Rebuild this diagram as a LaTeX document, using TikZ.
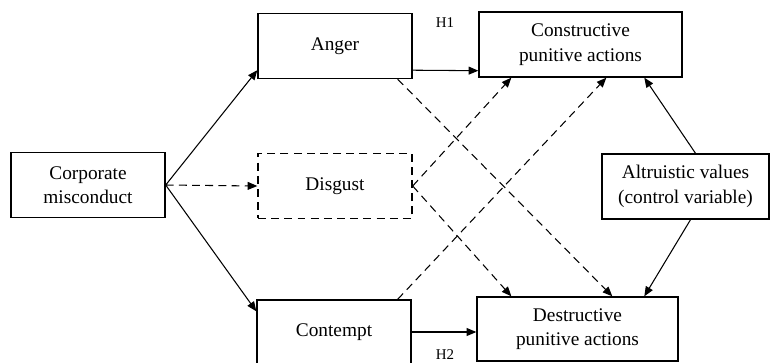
\documentclass[tikz,border=0pt]{standalone}
\usepackage{fontspec}
\setmainfont{Liberation Serif}
\usepackage{tikz}
\usetikzlibrary{arrows.meta, calc, positioning}

\tikzset{longdash/.style={dash pattern=on 4.5pt off 3pt}}

\begin{document}
\begin{tikzpicture}[x=0.02cm, y=-0.02cm]
        \useasboundingbox (0,0) rectangle (770,362);
        \begin{scope}[every node/.style={thick,draw,rectangle,align=center,inner sep=0pt,
            font=\rmfamily\fontsize{11}{14}\selectfont,minimum height=1.3cm}]
          \node[minimum width=3.08cm] (corp) at (88,185) {Corporate\\misconduct};
          \node[minimum width=3.08cm] (anger) at (335,46) {Anger};
          \node[minimum width=3.08cm,longdash] (disgust) at (335,186) {Disgust};
          \node[minimum width=3.08cm,minimum height=1.28cm] (contempt) at (334,332) {Contempt};
          \node[minimum width=4.06cm] (constr) at (580.5,44.5) {Constructive\\punitive actions};
          \node[minimum width=4.02cm,minimum height=1.28cm] (destr) at (577.5,329) {Destructive\\punitive actions};
          \node[minimum width=3.34cm] (altru) at (685.5,186.5) {Altruistic values\\(control variable)};
        \end{scope}
        \node[font=\rmfamily\fontsize{8.5}{10}\selectfont] (h1) at (445,23) {H1};
        \node[font=\rmfamily\fontsize{8.5}{10}\selectfont] (h2) at (445,355) {H2};
        \begin{scope}[every edge/.style={draw=black,semithick,-{Triangle[length=5.5pt,width=4.5pt]}}]
          \path (corp.east) edge ($(anger.south west)+(0,-9)$);
          \path (corp.east) edge[longdash] (disgust.west);
          \path (corp.east) edge ($(contempt.north west)+(0,12)$);
          \path ($(anger.south east)+(0,-9)$) edge ($(constr.south west)+(0,-7)$);
          \path (contempt.east) edge (destr.west |- contempt.east);
          \path ($(anger.south east)+(-15,0)$) edge[longdash] ($(destr.north west)+(136,0)$);
          \path (disgust.east) edge[longdash] ($(destr.north west)+(35,0)$);
          \path (disgust.east) edge[longdash] ($(constr.south west)+(33,0)$);
          \path ($(contempt.north east)+(-14,0)$) edge[longdash] ($(constr.south west)+(128,0)$);
          \path ($(altru.north)+(10,0)$) edge ($(constr.south west)+(166,0)$);
          \path ($(altru.south)+(5,0)$) edge ($(destr.north west)+(168,0)$);
        \end{scope}
      \end{tikzpicture}
\end{document}
